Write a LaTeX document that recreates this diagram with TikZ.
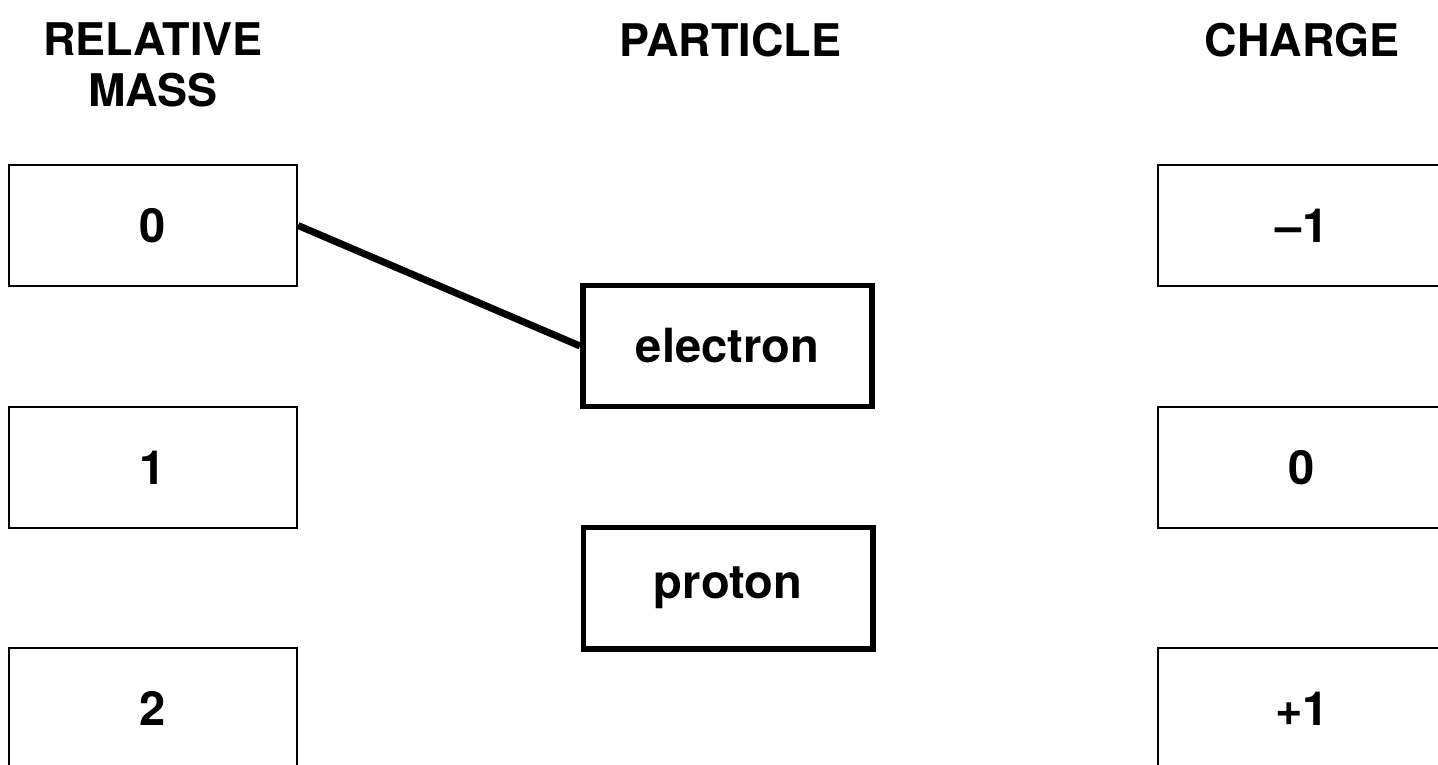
\documentclass[tikz,border=0pt]{standalone}
\usepackage{fontspec}
\setmainfont{TeX Gyre Heros}
\usepackage{tikz}

\begin{document}
\begin{tikzpicture}[x=1cm,y=1cm,
  every node/.style={font=\fontsize{12.8}{14.4}\selectfont\bfseries},
  valbox/.style={draw,line width=.6pt,minimum width=2.88cm,minimum height=1.21cm,inner sep=0pt,
    font=\fontsize{13.4}{15}\selectfont\bfseries},
  partbox/.style={draw,line width=1.7pt,minimum width=2.89cm,minimum height=1.21cm,inner sep=0pt,
    font=\fontsize{13.4}{15}\selectfont\bfseries}]
\path[use as bounding box] (0,0) rectangle (14.38,7.64);
\node[align=center] (hmass) at (1.53,6.99) {RELATIVE\\MASS};
\node[anchor=base] (hpart) at (7.30,7.08) {PARTICLE};
\node[anchor=base] (hcharge) at (13.02,7.08) {CHARGE};
\node[valbox] (mass0) at (1.53,5.385) {0};
\node[valbox] (mass1) at (1.53,2.965) {1};
\node[valbox] (mass2) at (1.53,0.555) {2};
\node[partbox] (electron) at (7.275,4.18) {electron};
\node[partbox] (proton) at (7.28,1.76) {proton};
\node[valbox] (chneg) at (13.02,5.385) {–1};
\node[valbox] (chzero) at (13.02,2.965) {0};
\node[valbox] (chpos) at (13.02,0.555) {+1};
\draw[line width=2pt] (mass0.east) -- (electron.west);
\end{tikzpicture}
\end{document}
